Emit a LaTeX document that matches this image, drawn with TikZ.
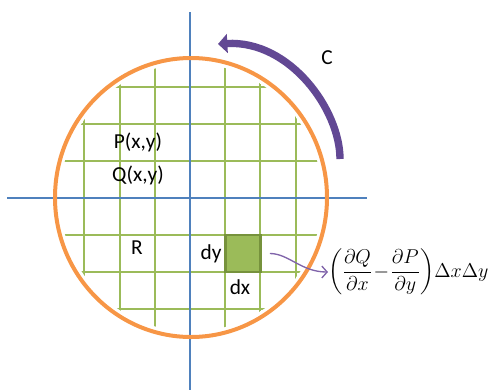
\RequirePackage{fix-cm}
\documentclass[tikz,border=0pt]{standalone}
\usepackage{amsmath}
\usepackage{fontspec}
\setmainfont{Carlito}
\usetikzlibrary{arrows.meta}
\definecolor{ringorange}{RGB}{247,150,70}
\definecolor{gridgreen}{RGB}{155,187,89}
\definecolor{cellgreen}{RGB}{118,146,60}
\definecolor{axisblue}{RGB}{79,129,189}
\definecolor{arrowpurple}{RGB}{98,72,148}
\definecolor{linkpurple}{RGB}{128,100,170}

\begin{document}
\begin{tikzpicture}[x=0.75pt, y=-0.75pt, font=\fontsize{16}{19}\selectfont,
  gridline/.style={gridgreen, line width=1.5pt},
  axisline/.style={axisblue, line width=1.1pt},
  cell/.style={draw=cellgreen, fill=gridgreen, line width=2.2pt,
    minimum width=26.4pt, minimum height=27.75pt, inner sep=0pt}]
  \useasboundingbox (0,0) rectangle (496,390);
  % grid
  \begin{scope}
    \clip (191,197.5) ellipse [x radius=131, y radius=134];
    \foreach \k in {-5,...,5}
      \draw[gridline] (190+35.2*\k,40) -- (190+35.2*\k,360);
    \foreach \k in {-5,...,5}
      \draw[gridline] (40,198+37*\k) -- (350,198+37*\k);
  \end{scope}
  % axes
  \draw[axisline] (7,198) -- (367,198);
  \draw[axisline] (190,12) -- (190,390);
  % region boundary
  \draw[ringorange, line width=3pt] (191,197.5) ellipse [x radius=136, y radius=139.5];
  % small cell
  \node[cell] (dxdy) at (242.8,253.5) {};
  % Labels
  \node (pxy) at (138,142) {P(x,y)};
  \node (qxy) at (138,175) {Q(x,y)};
  \node (region) at (137,248) {R};
  \node (dy) at (211,254) {dy};
  \node (dx) at (240,287) {dx};
  \node (curve) at (327,58) {C};
  \node[inner sep=0pt, anchor=west, font=\fontsize{15}{18}\selectfont] (green) at (328,272)
    {$\displaystyle\left(\frac{\partial Q}{\partial x}\!-\!\frac{\partial P}{\partial y}\right)\!\Delta x\Delta y$};
  % arrows
  \draw[linkpurple, line width=1pt, -{Straight Barb[length=4pt,width=9pt]}, shorten <=6pt]
    (dxdy.east) to[out=0, in=180] (green.west);
  \coordinate (cfrom) at (340,159);
  \coordinate (cto) at (218,44);
  \draw[arrowpurple, line width=5.5pt, -{Triangle[length=7pt,width=14pt]}]
    (cfrom) .. controls (340,110) and (290,40) .. (cto);
\end{tikzpicture}
\end{document}
